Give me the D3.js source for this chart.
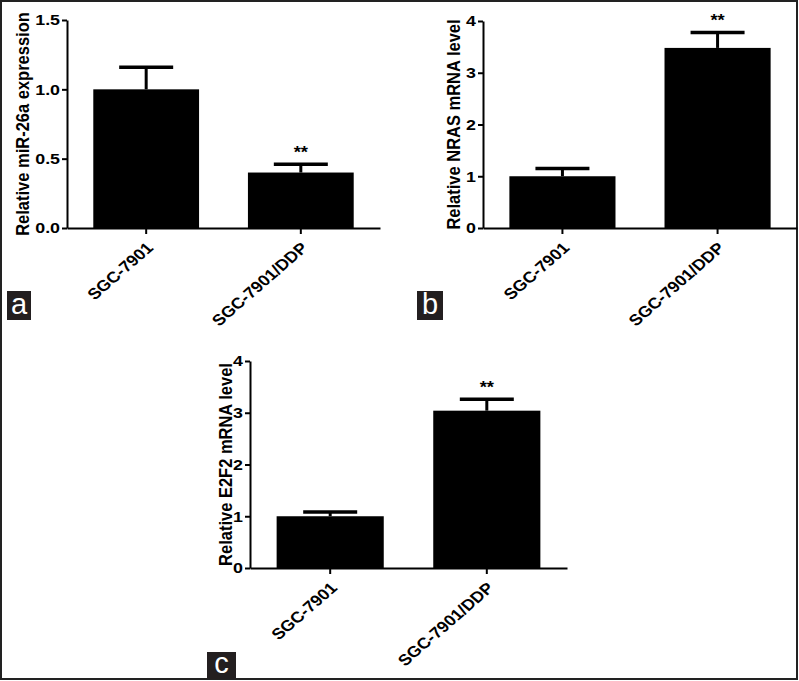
<!DOCTYPE html>
<html>
<head>
<meta charset="utf-8">
<script src="https://cdn.jsdelivr.net/npm/d3@7"></script>
<style>
  body { margin: 0; background: #fff; }
  svg text { font-family: "Liberation Sans", Arial, sans-serif; }
</style>
</head>
<body>
<svg id="fig" width="799" height="681"></svg>
<script>
// data
const categories = ["SGC-7901", "SGC-7901/DDP"];
const sigMarks = ["", "**"];

const mir26aMeans = [1.0, 0.40];
const mir26aErr = [0.16, 0.06];
const mir26aTicks = [0, 0.5, 1.0, 1.5];

const nrasMeans = [1.0, 3.48];
const nrasErr = [0.15, 0.30];
const nrasTicks = [0, 1, 2, 3, 4];

const e2f2Means = [1.0, 3.04];
const e2f2Err = [0.08, 0.22];
const e2f2Ticks = [0, 1, 2, 3, 4];

const svg = d3.select('#fig');

// outer frame
svg.append("rect")
  .attr("x", 1).attr("y", 1)
  .attr("width", 796).attr("height", 678)
  .attr("fill", "none")
  .attr("stroke", "#222")
  .attr("stroke-width", 2);

// the original figure is a little stretched sideways
const stretch = 1.15;

function drawPanel(p) {
  const g = svg.append("g");

  const x = d3.scaleBand()
    .domain(categories)
    .range([p.left, p.right])
    .paddingInner(0.316)
    .paddingOuter(0.17);

  const y = d3.scaleLinear()
    .domain([0, d3.max(p.ticks)])
    .range([p.bottom, p.top]);

  // bars
  g.selectAll("rect.bar")
    .data(p.means)
    .enter().append("rect")
    .attr("class", "bar")
    .attr("x", (d, i) => x(categories[i]))
    .attr("y", d => y(d))
    .attr("width", x.bandwidth())
    .attr("height", d => y(0) - y(d))
    .attr("fill", "#000");

  // upper error bars
  const cx = i => x(categories[i]) + x.bandwidth() / 2;
  p.means.forEach((m, i) => {
    g.append("line")
      .attr("x1", cx(i)).attr("x2", cx(i))
      .attr("y1", y(m)).attr("y2", y(m + p.err[i]))
      .attr("stroke", "#000").attr("stroke-width", 3);
    g.append("line")
      .attr("x1", cx(i) - 27).attr("x2", cx(i) + 27)
      .attr("y1", y(m + p.err[i])).attr("y2", y(m + p.err[i]))
      .attr("stroke", "#000").attr("stroke-width", 3.5);
    if (sigMarks[i]) {
      g.append("text")
        .attr("transform", `translate(${cx(i)},${y(m + p.err[i]) - 6}) scale(${stretch},1)`)
        .attr("text-anchor", "middle")
        .attr("font-size", 16)
        .attr("font-weight", "bold")
        .text(sigMarks[i]);
    }
  });

  // y axis
  const yAxis = g.append("g")
    .attr("transform", `translate(${p.left},0)`)
    .call(d3.axisLeft(y).tickValues(p.ticks).tickFormat(p.fmt).tickSize(5).tickSizeOuter(0).tickPadding(2));

  // x axis
  const xAxis = g.append("g")
    .attr("transform", `translate(0,${p.bottom})`)
    .call(d3.axisBottom(x).tickSize(6).tickSizeOuter(0));

  [yAxis, xAxis].forEach(a => {
    a.select(".domain").attr("stroke", "#000").attr("stroke-width", 2);
    a.selectAll(".tick line").attr("stroke", "#000").attr("stroke-width", 2);
    a.selectAll("text")
      .attr("fill", "#000")
      .attr("font-size", 15.5)
      .attr("font-weight", "bold")
      .attr("font-family", '"Liberation Sans", Arial, sans-serif');
  });

  yAxis.selectAll("text")
    .attr("x", 0)
    .attr("transform", `translate(-7,0) scale(${stretch},1)`);

  xAxis.selectAll("text")
    .attr("x", 0).attr("y", 0).attr("dy", 0)
    .attr("text-anchor", "end")
    .attr("transform", `translate(8,21) scale(${stretch},1) rotate(-45)`);

  // y axis title
  g.append("text")
    .attr("transform", `translate(${p.labelX},${(p.top + p.bottom) / 2}) rotate(-90) scale(1,${stretch})`)
    .attr("text-anchor", "middle")
    .attr("dy", "0.35em")
    .attr("font-size", 16.5)
    .attr("font-weight", "bold")
    .text(p.title);

  // panel letter
  g.append("rect")
    .attr("x", p.box[0]).attr("y", p.box[1])
    .attr("width", p.box[2]).attr("height", p.box[3])
    .attr("fill", "#231f20");
  g.append("text")
    .attr("x", p.box[0] + p.box[2] / 2)
    .attr("y", p.box[1] + p.box[3] - 6)
    .attr("text-anchor", "middle")
    .attr("font-size", 29)
    .attr("fill", "#fff")
    .text(p.letter);
}

drawPanel({
  means: mir26aMeans, err: mir26aErr, ticks: mir26aTicks, fmt: d3.format(".1f"),
  left: 67, right: 380, top: 20, bottom: 228, labelX: 22,
  title: "Relative miR-26a expression",
  letter: "a", box: [7, 291, 24, 29]
});

drawPanel({
  means: nrasMeans, err: nrasErr, ticks: nrasTicks, fmt: d3.format("d"),
  left: 483, right: 797, top: 21, bottom: 228, labelX: 453,
  title: "Relative NRAS mRNA level",
  letter: "b", box: [417, 291, 26, 29]
});

drawPanel({
  means: e2f2Means, err: e2f2Err, ticks: e2f2Ticks, fmt: d3.format("d"),
  left: 250, right: 567, top: 361, bottom: 568, labelX: 225,
  title: "Relative E2F2 mRNA level",
  letter: "c", box: [207, 652, 29, 27]
});
</script>
</body>
</html>
